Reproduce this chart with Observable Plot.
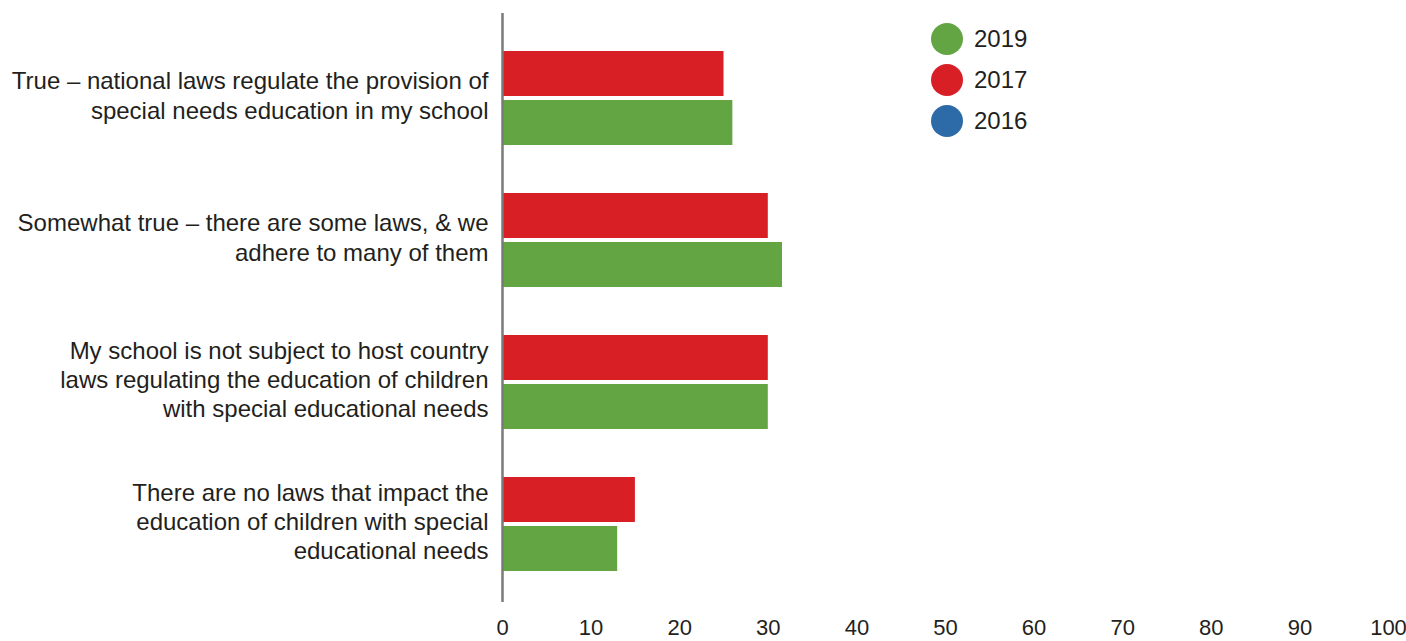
<!DOCTYPE html>
<html>
<head>
<meta charset="utf-8">
<script src="https://cdn.jsdelivr.net/npm/d3@7"></script>
<script src="https://cdn.jsdelivr.net/npm/@observablehq/plot@0.6"></script>
<style>
  html, body { margin: 0; padding: 0; background: #fff; }
  #wrap { position: relative; width: 1406px; height: 641px; overflow: hidden; font-family: "Liberation Sans", Arial, sans-serif; color: #231f20; }
  #legend { position: absolute; left: 931px; top: 18px; }
  .item { display: flex; align-items: center; height: 41px; font-size: 24px; }
  .sw { width: 32px; height: 32px; border-radius: 50%; margin-right: 11px; }
</style>
</head>
<body>
<div id="wrap"><div id="legend"></div></div>
<script>
const categories = [
  "True – national laws regulate the provision of\nspecial needs education in my school",
  "Somewhat true – there are some laws, & we\nadhere to many of them",
  "My school is not subject to host country\nlaws regulating the education of children\nwith special educational needs",
  "There are no laws that impact the\neducation of children with special\neducational needs"
];
const values2017 = [25, 30, 30, 15];
const values2019 = [26, 31.6, 30, 13];
const legendYears = ["2019", "2017", "2016"];
const legendColors = ["#63a542", "#d91f26", "#2d6ba8"];
const xTicks = [0, 10, 20, 30, 40, 50, 60, 70, 80, 90, 100];

const rows2017 = categories.map((c, i) => ({category: c, value: values2017[i]}));
const rows2019 = categories.map((c, i) => ({category: c, value: values2019[i]}));

const chart = Plot.plot({
  width: 1406,
  height: 641,
  marginLeft: 502,
  marginRight: 18,
  marginTop: 13,
  marginBottom: 39,
  style: {fontFamily: "'Liberation Sans', Arial, sans-serif", color: "#231f20", background: "transparent"},
  x: {domain: [0, 100], ticks: xTicks},
  y: {domain: categories, paddingInner: 0.335, paddingOuter: 0.227, align: 0.55},
  marks: [
    Plot.barX(rows2017, {x: "value", y: "category", fill: legendColors[1], insetBottom: 49}),
    Plot.barX(rows2019, {x: "value", y: "category", fill: legendColors[0], insetTop: 49}),
    Plot.ruleX([0], {stroke: "#7a7a7a", strokeWidth: 2.5}),
    Plot.axisX({ticks: xTicks, tickSize: 0, tickPadding: 17, fontSize: 22, label: null, line: true, stroke: "#7a7a7a", strokeWidth: 2.5,
      fontFamily: "'Liberation Sans Narrow', 'Liberation Sans', Arial, sans-serif", fill: "#231f20"}),
    Plot.axisY({tickSize: 0, tickPadding: 14, fontSize: 24, lineHeight: 1.22, dy: -4, label: null, fill: "#231f20", textOverflow: null, lineWidth: 100})
  ]
});
document.getElementById("wrap").prepend(chart);

const legend = document.getElementById("legend");
legendYears.forEach((y, i) => {
  const d = document.createElement("div");
  d.className = "item";
  d.innerHTML = `<span class="sw" style="background:${legendColors[i]}"></span><span>${y}</span>`;
  legend.appendChild(d);
});
</script>
</body>
</html>
